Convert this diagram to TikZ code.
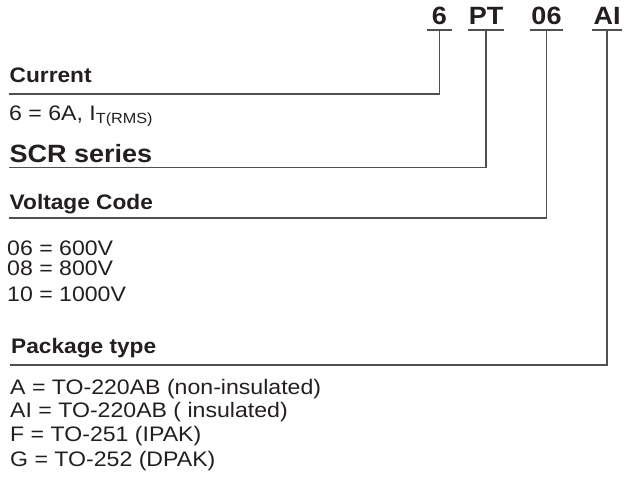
\documentclass[tikz,border=0pt]{standalone}
\usepackage{fontspec}
\setmainfont{Liberation Sans}
\newfontfamily\regf[FakeStretch=1.1]{Liberation Sans}
\newfontfamily\boldf[FakeStretch=1.08]{Liberation Sans Bold}
\definecolor{ink}{HTML}{231F20}
\definecolor{rule}{HTML}{505050}
\begin{document}
\begin{tikzpicture}[x=1pt,y=-1pt,
  toplbl/.style={inner sep=0pt, anchor=base, minimum width=#1, text=ink, font=\boldf\fontsize{25}{25}\selectfont},
  head/.style={inner sep=0pt, anchor=base west, text=ink, font=\boldf\fontsize{21}{21}\selectfont},
  bighead/.style={inner sep=0pt, anchor=base west, text=ink, font=\boldf\fontsize{25}{25}\selectfont},
  desc/.style={inner sep=0pt, anchor=base west, text=ink, font=\regf\fontsize{21}{21}\selectfont},
  conn/.style={draw=rule, line width=1.5pt},
]
\useasboundingbox (0,0) rectangle (624,487);
% top code
\node[toplbl=25] (n6) at (439.5,25) {6};
\node[toplbl=35] (nPT) at (486,25) {PT};
\node[toplbl=33] (n06) at (546.5,25) {06};
\node[toplbl=30] (nAI) at (607,25) {AI};
\foreach \n in {n6,nPT,n06,nAI}
  \draw[conn] ([yshift=-5pt]\n.base west) -- ([yshift=-5pt]\n.base east);
\coordinate (u6) at ([yshift=-5pt]n6.base);
\coordinate (uPT) at ([yshift=-5pt]nPT.base);
\coordinate (u06) at ([yshift=-5pt]n06.base);
\coordinate (uAI) at ([yshift=-5pt]nAI.base);
% headings
\node[head] (cur) at (9.5,83) {Current};
\coordinate (l1) at (9,94);
\node[desc] (cur1) at (9,120) {6 = 6A, I\textsubscript{T(RMS)}};
\node[bighead] (scr) at (9.5,162) {SCR series};
\coordinate (l2) at (9,167.5);
\node[head] (vol) at (9.5,209) {Voltage Code};
\coordinate (l3) at (9,218);
\node[desc] (v1) at (7,255) {06 = 600V};
\node[desc] (v2) at (7,275) {08 = 800V};
\node[desc] (v3) at (7,301) {10 = 1000V};
\node[head] (pkg) at (11,353) {Package type};
\coordinate (l4) at (10,365);
\node[desc] (p1) at (10,394) {A = TO-220AB (non-insulated)};
\node[desc] (p2) at (10,417) {AI = TO-220AB ( insulated)};
\node[desc] (p3) at (10,441) {F = TO-251 (IPAK)};
\node[desc] (p4) at (10,466) {G = TO-252 (DPAK)};
% connectors
\draw[conn] (l1) -| (u6);
\draw[conn] (l2) -| (uPT);
\draw[conn] (l3) -| (u06);
\draw[conn] (l4) -| (uAI);
\end{tikzpicture}
\end{document}
